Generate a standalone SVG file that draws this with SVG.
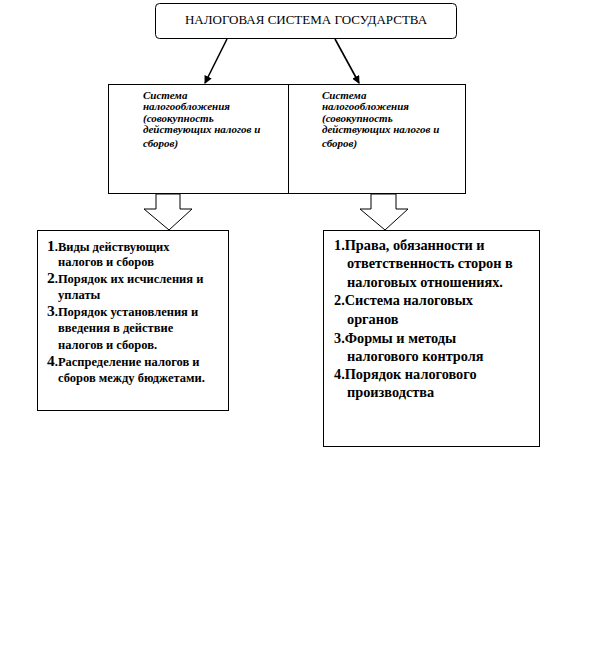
<svg xmlns="http://www.w3.org/2000/svg" width="612" height="651" viewBox="0 0 612 651">
<defs>
<style>
.box{fill:#fff;stroke:#000;stroke-width:1}
.t{font-family:'Liberation Serif','Times New Roman','DejaVu Serif',serif;fill:#000}
.title{font-size:13px}
.mid{font-size:11px;font-weight:bold;font-style:italic}
.lft{font-size:12.5px;font-weight:bold}
.rgt{font-size:14.3px;font-weight:bold}
.num{font-size:15.5px}
.conn{stroke:#000;stroke-width:1.6;fill:none}
.blk{fill:#fff;stroke:#000;stroke-width:1}
</style>
<marker id="ah" markerWidth="8" markerHeight="8" refX="7" refY="4" orient="auto" markerUnits="userSpaceOnUse">
<path d="M0,0 L8,4 L0,8 z" fill="#000"/>
</marker>
</defs>
<rect width="612" height="651" fill="#fff"/>

<g id="top">
<rect class="box" x="155.5" y="3.5" width="301" height="35" rx="4"/>
<text class="t title" x="306" y="24" text-anchor="middle">НАЛОГОВАЯ СИСТЕМА  ГОСУДАРСТВА</text>
</g>

<g id="connectors">
<line class="conn" x1="227" y1="39" x2="205" y2="83" marker-end="url(#ah)"/>
<line class="conn" x1="335" y1="39" x2="359" y2="83" marker-end="url(#ah)"/>
<path class="blk" d="M156,194 L180,194 L180,209 L192,209 L169,230 L144,209 L156,209 Z"/>
<path class="blk" d="M371,194 L396,194 L396,209 L408,209 L385,230 L360,209 L371,209 Z"/>
</g>

<g id="mid-left">
<rect class="box" x="108.5" y="84.5" width="180" height="109"/>
<text class="t mid" x="143" y="99">Система</text>
<text class="t mid" x="143" y="110">налогообложения</text>
<text class="t mid" x="143" y="122">(совокупность</text>
<text class="t mid" x="143" y="133">действующих налогов и</text>
<text class="t mid" x="143" y="147">сборов)</text>
</g>

<g id="mid-right">
<rect class="box" x="288.5" y="84.5" width="177" height="109"/>
<text class="t mid" x="322" y="99">Система</text>
<text class="t mid" x="322" y="110">налогообложения</text>
<text class="t mid" x="322" y="122">(совокупность</text>
<text class="t mid" x="322" y="133">действующих налогов и</text>
<text class="t mid" x="322" y="147">сборов)</text>
</g>

<g id="bottom-left">
<rect class="box" x="37.5" y="230.5" width="191" height="180"/>
<text class="t lft" x="47" y="251"><tspan class="num">1</tspan>.Виды действующих</text>
<text class="t lft" x="58" y="266">налогов и сборов</text>
<text class="t lft" x="47" y="283"><tspan class="num">2</tspan>.Порядок их  исчисления и</text>
<text class="t lft" x="58" y="299">уплаты</text>
<text class="t lft" x="47" y="316"><tspan class="num">3</tspan>.Порядок установления и</text>
<text class="t lft" x="58" y="332">введения в действие</text>
<text class="t lft" x="58" y="349">налогов и сборов.</text>
<text class="t lft" x="47" y="366"><tspan class="num">4</tspan>.Распределение налогов и</text>
<text class="t lft" x="58" y="382">сборов между бюджетами.</text>
</g>

<g id="bottom-right">
<rect class="box" x="323.5" y="230.5" width="216" height="216"/>
<text class="t rgt" x="334" y="250">1.Права, обязанности и</text>
<text class="t rgt" x="347" y="268">ответственность сторон в</text>
<text class="t rgt" x="347" y="287">налоговых отношениях.</text>
<text class="t rgt" x="334" y="305">2.Система налоговых</text>
<text class="t rgt" x="347" y="324">органов</text>
<text class="t rgt" x="334" y="343">3.Формы и методы</text>
<text class="t rgt" x="347" y="361">налогового контроля</text>
<text class="t rgt" x="334" y="379">4.Порядок налогового</text>
<text class="t rgt" x="347" y="397">производства</text>
</g>
</svg>
